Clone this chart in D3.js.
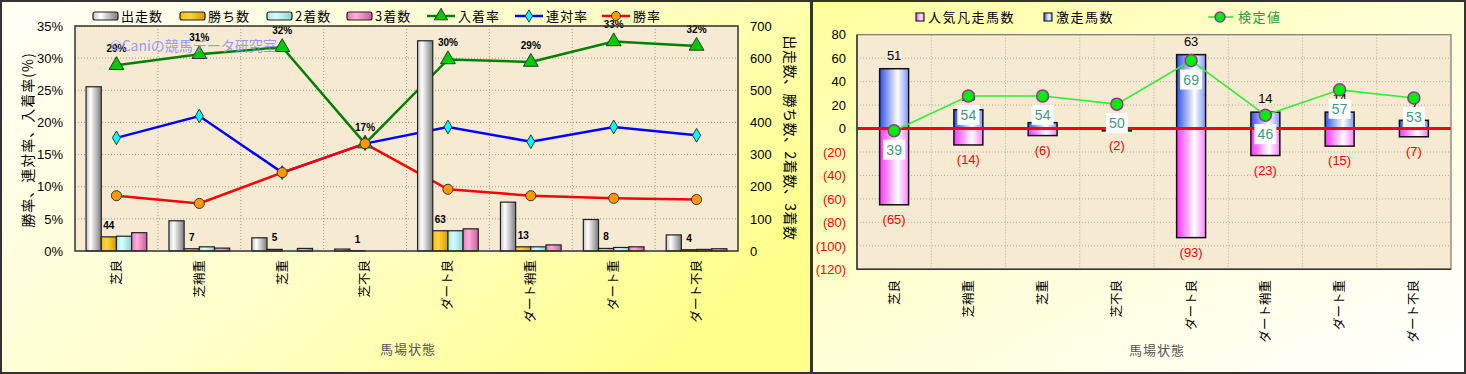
<!DOCTYPE html>
<html>
<head>
<meta charset="utf-8">
<script src="https://cdn.jsdelivr.net/npm/d3@7"></script>
<style>
body { margin: 0; background: #fff; }
text { font-family: "Liberation Sans", "Noto Sans CJK JP", sans-serif; }
.jp { font-family: "Noto Sans CJK JP", sans-serif; }
</style>
</head>
<body>
<script>
// categories (馬場状態)
var categories = ["芝良", "芝稍重", "芝重", "芝不良", "ダート良", "ダート稍重", "ダート重", "ダート不良"];

// left chart: counts
var runs    = [511, 94, 41, 6, 654, 152, 98, 50];
var wins    = [44, 7, 5, 1, 63, 13, 8, 4];
var seconds = [46, 13, 0, 0, 63, 13, 11, 5];
var thirds  = [57, 9, 8, 0, 69, 19, 13, 7];

// left chart: rates
var placeRate    = [0.289, 0.306, 0.317, 0.167, 0.298, 0.294, 0.326, 0.319];
var quinellaRate = [0.176, 0.210, 0.122, 0.167, 0.193, 0.170, 0.193, 0.180];
var winRate      = [0.086, 0.074, 0.122, 0.167, 0.096, 0.086, 0.082, 0.080];

// right chart
var popularFail = [65, 14, 6, 2, 93, 23, 15, 7];
var surgeRuns   = [51, 16, 5, 0, 63, 14, 14, 7];
var testValue   = [39.1, 53.9, 53.9, 50.4, 69.0, 45.7, 56.5, 53.0];

var pctTicks = [0, 0.05, 0.10, 0.15, 0.20, 0.25, 0.30, 0.35];
var cntTicks = [0, 100, 200, 300, 400, 500, 600, 700];
var diffTicks = [80, 60, 40, 20, 0, -20, -40, -60, -80, -100, -120];

var svg = d3.select("body").append("svg")
    .attr("width", 1466)
    .attr("height", 374);

var defs = svg.append("defs");

function grad(id, stops, x1, y1, x2, y2) {
    var g = defs.append("linearGradient")
        .attr("id", id)
        .attr("x1", x1 || 0).attr("y1", y1 || 0)
        .attr("x2", x2 === undefined ? 1 : x2).attr("y2", y2 || 0);
    stops.forEach(function(s) {
        g.append("stop").attr("offset", s[0]).attr("stop-color", s[1]);
    });
}

grad("panelL", [[0, "#fffff4"], [0.55, "#ffffc8"], [1, "#ffff8c"]], 0, 0.1, 1, 0.6);
grad("panelR", [[0, "#ffff9c"], [0.5, "#ffffd8"], [1, "#ffffff"]], 0, 0, 1, 1);
grad("g-runs", [[0, "#c4c4c4"], [0.3, "#ffffff"], [1, "#7c7c7c"]]);
grad("g-wins", [[0, "#f5bd00"], [0.35, "#ffd640"], [1, "#d49a00"]]);
grad("g-seconds", [[0, "#a6e6e6"], [0.35, "#d8ffff"], [1, "#8ed0d0"]]);
grad("g-thirds", [[0, "#e878b8"], [0.35, "#ffb0dc"], [1, "#c85c9c"]]);
grad("g-surge", [[0, "#3050ee"], [0.62, "#ffffff"], [1, "#7f95ff"]]);
grad("g-fail", [[0, "#ff30ff"], [0.62, "#ffffff"], [1, "#ff80ff"]]);

// panels
svg.append("rect").attr("x", 1).attr("y", 1).attr("width", 810).attr("height", 372)
    .style("fill", "url(#panelL)").style("stroke", "#333").style("stroke-width", 2);
svg.append("rect").attr("x", 812).attr("y", 1).attr("width", 653).attr("height", 372)
    .style("fill", "url(#panelR)").style("stroke", "#333").style("stroke-width", 2);

// ---------------- left chart ----------------
var L = {left: 75, right: 738, top: 26, bottom: 251};

var xL = d3.scaleBand().domain(categories).range([L.left, L.right]);
var keys = ["runs", "wins", "seconds", "thirds"];
var counts = {runs: runs, wins: wins, seconds: seconds, thirds: thirds};
var xSub = d3.scaleBand().domain(keys).range([0, xL.bandwidth()]).paddingOuter(0.73);
var yPct = d3.scaleLinear().domain([0, 0.35]).range([L.bottom, L.top]);
var yCnt = d3.scaleLinear().domain([0, 700]).range([L.bottom, L.top]);

var left = svg.append("g");

left.append("rect")
    .attr("x", L.left).attr("y", L.top)
    .attr("width", L.right - L.left).attr("height", L.bottom - L.top)
    .style("fill", "#f6ead3");

left.selectAll(".hgrid")
    .data(pctTicks.slice(1))
    .enter().append("line")
    .attr("x1", L.left).attr("x2", L.right)
    .attr("y1", function(d) { return yPct(d); })
    .attr("y2", function(d) { return yPct(d); })
    .style("stroke", "#a49c90").style("stroke-dasharray", "1,2");

left.selectAll(".vgrid")
    .data(categories.slice(1))
    .enter().append("line")
    .attr("x1", function(d) { return xL(d); })
    .attr("x2", function(d) { return xL(d); })
    .attr("y1", L.top).attr("y2", L.bottom)
    .style("stroke", "#a49c90").style("stroke-dasharray", "1,2");

var cx = function(d, i) { return xL(categories[i]) + xL.bandwidth() / 2; };

var rateSeries = [
    {name: "入着率", values: placeRate, line: "#008000", fill: "#00cc00", mark: d3.symbolTriangle, size: 95},
    {name: "連対率", values: quinellaRate, line: "#0000ff", fill: "#00ffff", mark: d3.symbolDiamond, size: 55},
    {name: "勝率", values: winRate, line: "#ff0000", fill: "#ff9900", mark: d3.symbolCircle, size: 80}
];

var line = d3.line().x(cx).y(function(d) { return yPct(d); });

rateSeries.forEach(function(s) {
    left.append("path")
        .datum(s.values)
        .attr("d", line)
        .style("fill", "none")
        .style("stroke", s.line)
        .style("stroke-width", 2.5);
});

keys.forEach(function(k) {
    left.selectAll(".bar-" + k)
        .data(counts[k])
        .enter().append("rect")
        .attr("x", function(d, i) { return xL(categories[i]) + xSub(k); })
        .attr("width", xSub.bandwidth())
        .attr("y", function(d) { return yCnt(d); })
        .attr("height", function(d) { return L.bottom - yCnt(d); })
        .style("display", function(d) { return d > 0 ? null : "none"; })
        .style("fill", "url(#g-" + k + ")")
        .style("stroke", "#222")
        .style("stroke-width", 1.2);
});

rateSeries.forEach(function(s) {
    left.selectAll(null)
        .data(s.values)
        .enter().append("path")
        .attr("d", d3.symbol().type(s.mark).size(s.size))
        .attr("transform", function(d, i) { return "translate(" + cx(d, i) + "," + yPct(d) + ")"; })
        .style("fill", s.fill)
        .style("stroke", "#333")
        .style("stroke-width", 1);
});

// 入着率 labels
left.selectAll(".plabel")
    .data(placeRate)
    .enter().append("text")
    .attr("x", cx)
    .attr("y", function(d) { return yPct(d) - 13; })
    .attr("text-anchor", "middle")
    .style("font-size", "10px")
    .style("font-weight", "bold")
    .text(d3.format(".0%"));

// 勝ち数 labels
left.selectAll(".wlabel")
    .data(wins)
    .enter().append("text")
    .attr("x", function(d, i) { return xL(categories[i]) + xSub("wins") + xSub.bandwidth() / 2; })
    .attr("y", function(d) { return yCnt(d) - 8; })
    .attr("text-anchor", "middle")
    .style("font-size", "10px")
    .style("font-weight", "bold")
    .text(function(d) { return d; });

left.append("rect")
    .attr("x", L.left).attr("y", L.top)
    .attr("width", L.right - L.left).attr("height", L.bottom - L.top)
    .style("fill", "none").style("stroke", "#333").style("stroke-width", 1.5);

var axL = left.append("g")
    .attr("transform", "translate(" + L.left + ",0)")
    .call(d3.axisLeft(yPct).tickValues(pctTicks).tickFormat(d3.format(".0%")).tickSize(0).tickPadding(12));
var axR = left.append("g")
    .attr("transform", "translate(" + L.right + ",0)")
    .call(d3.axisRight(yCnt).tickValues(cntTicks).tickSize(0).tickPadding(12));
[axL, axR].forEach(function(a) {
    a.select(".domain").remove();
    a.selectAll("text").style("font-size", "13px").style("fill", "#000")
        .style("font-family", "Liberation Sans, sans-serif");
});

left.selectAll(".xlab")
    .data(categories)
    .enter().append("text")
    .attr("class", "jp")
    .attr("transform", function(d) { return "translate(" + (xL(d) + xL.bandwidth() / 2) + ",260) rotate(-90)"; })
    .attr("dy", "0.35em")
    .attr("text-anchor", "end")
    .style("font-size", "12.5px")
    .text(function(d) { return d; });

left.append("text")
    .attr("class", "jp")
    .attr("transform", "translate(28,140) rotate(-90)")
    .attr("text-anchor", "middle")
    .attr("dy", "0.35em")
    .style("font-size", "14px")
    .style("letter-spacing", "1px")
    .text("勝率、連対率、入着率(%)");

left.append("text")
    .attr("class", "jp")
    .attr("transform", "translate(790,138) rotate(90)")
    .attr("text-anchor", "middle")
    .attr("dy", "0.35em")
    .style("font-size", "14px")
    .style("letter-spacing", "0.5px")
    .text("出走数、勝ち数、2着数、3着数");

left.append("text")
    .attr("class", "jp")
    .attr("x", 408).attr("y", 354)
    .attr("text-anchor", "middle")
    .style("font-size", "13px")
    .style("fill", "#555")
    .style("letter-spacing", "1px")
    .text("馬場状態");

left.append("text")
    .attr("class", "jp")
    .attr("x", 110).attr("y", 51)
    .style("font-size", "14px")
    .style("fill", "#8c8cff")
    .style("opacity", 0.85)
    .text("©Caniの競馬データ研究室");

// legend left
var barLegend = [
    {name: "出走数", key: "runs", x: 93},
    {name: "勝ち数", key: "wins", x: 180},
    {name: "2着数", key: "seconds", x: 267},
    {name: "3着数", key: "thirds", x: 347}
];
barLegend.forEach(function(b) {
    left.append("rect")
        .attr("x", b.x).attr("y", 12).attr("width", 25).attr("height", 8).attr("rx", 2)
        .style("fill", "url(#g-" + b.key + ")").style("stroke", "#222").style("stroke-width", 1.2);
    left.append("text").attr("class", "jp")
        .attr("x", b.x + 28).attr("y", 21)
        .style("font-size", "13px").style("letter-spacing", "1px")
        .text(b.name);
});
var lineLegendX = [427, 515, 602];
rateSeries.forEach(function(s, i) {
    var x0 = lineLegendX[i];
    left.append("line")
        .attr("x1", x0).attr("x2", x0 + 28).attr("y1", 16).attr("y2", 16)
        .style("stroke", s.line).style("stroke-width", 2.5);
    left.append("path")
        .attr("d", d3.symbol().type(s.mark).size(s.size * 0.8))
        .attr("transform", "translate(" + (x0 + 14) + ",16)")
        .style("fill", s.fill).style("stroke", "#333");
    left.append("text").attr("class", "jp")
        .attr("x", x0 + 31).attr("y", 21)
        .style("font-size", "13px").style("letter-spacing", "1px")
        .text(s.name);
});

// ---------------- right chart ----------------
var R = {left: 857, right: 1451, top: 34.7, bottom: 269.3};

var xR = d3.scaleBand().domain(categories).range([R.left, R.right]).paddingInner(0.61).paddingOuter(0.305);
var yR = d3.scaleLinear().domain([-120, 80]).range([R.bottom, R.top]);
var yTest = d3.scaleLinear().domain([-20, 80]).range([R.bottom, R.top]);
var stepR = xR.step();

var right = svg.append("g");

right.append("rect")
    .attr("x", R.left).attr("y", R.top)
    .attr("width", R.right - R.left).attr("height", R.bottom - R.top)
    .style("fill", "#f6ead3");

right.selectAll(".hgrid")
    .data(diffTicks.slice(1, -1))
    .enter().append("line")
    .attr("x1", R.left).attr("x2", R.right)
    .attr("y1", function(d) { return yR(d); })
    .attr("y2", function(d) { return yR(d); })
    .style("stroke", "#b4aca0").style("stroke-dasharray", "1,2");

right.selectAll(".vgrid")
    .data(d3.range(1, categories.length))
    .enter().append("line")
    .attr("x1", function(d) { return R.left + d * stepR; })
    .attr("x2", function(d) { return R.left + d * stepR; })
    .attr("y1", R.top).attr("y2", R.bottom)
    .style("stroke", "#b4aca0").style("stroke-dasharray", "1,2");

var rcx = function(d, i) { return xR(categories[i]) + xR.bandwidth() / 2; };

right.selectAll(".surge")
    .data(surgeRuns)
    .enter().append("rect")
    .attr("x", function(d, i) { return xR(categories[i]); })
    .attr("width", xR.bandwidth())
    .attr("y", function(d) { return yR(d); })
    .attr("height", function(d) { return yR(0) - yR(d); })
    .style("fill", "url(#g-surge)")
    .style("stroke", "#111").style("stroke-width", 1.5)
    .style("display", function(d) { return d > 0 ? null : "none"; });

right.selectAll(".fail")
    .data(popularFail)
    .enter().append("rect")
    .attr("x", function(d, i) { return xR(categories[i]); })
    .attr("width", xR.bandwidth())
    .attr("y", yR(0))
    .attr("height", function(d) { return yR(-d) - yR(0); })
    .style("fill", "url(#g-fail)")
    .style("stroke", "#111").style("stroke-width", 1.5);

right.selectAll(".slabel")
    .data(surgeRuns)
    .enter().append("text")
    .attr("x", rcx)
    .attr("y", function(d) { return yR(d) - 9; })
    .attr("text-anchor", "middle")
    .style("font-size", "13px")
    .text(function(d) { return d > 0 ? d : ""; });

right.selectAll(".flabel")
    .data(popularFail)
    .enter().append("text")
    .attr("x", rcx)
    .attr("y", function(d) { return yR(-d) + 19; })
    .attr("text-anchor", "middle")
    .style("font-size", "13px")
    .style("fill", "#ff0000")
    .text(function(d) { return "(" + d + ")"; });

right.append("line")
    .attr("x1", R.left).attr("x2", R.right)
    .attr("y1", yR(0)).attr("y2", yR(0))
    .style("stroke", "#ff0000").style("stroke-width", 3);

right.append("path")
    .datum(testValue)
    .attr("d", d3.line().x(rcx).y(function(d) { return yTest(d); }))
    .style("fill", "none").style("stroke", "#33ee33").style("stroke-width", 1.6);

right.selectAll(".tmark")
    .data(testValue)
    .enter().append("circle")
    .attr("cx", rcx)
    .attr("cy", function(d) { return yTest(d); })
    .attr("r", 6)
    .style("fill", "#00ee00").style("stroke", "#993399").style("stroke-width", 1.5);

var tlab = right.selectAll(".tlabel")
    .data(testValue)
    .enter().append("g")
    .attr("transform", function(d, i) { return "translate(" + rcx(d, i) + "," + (yTest(d) + 19) + ")"; });
tlab.append("rect")
    .attr("x", -11).attr("y", -10).attr("width", 22).attr("height", 20)
    .style("fill", "#fff");
tlab.append("text")
    .attr("text-anchor", "middle")
    .attr("dy", "0.36em")
    .style("font-size", "14px")
    .style("fill", "#3f9a7c")
    .text(d3.format(".0f"));

right.append("rect")
    .attr("x", R.left).attr("y", R.top)
    .attr("width", R.right - R.left).attr("height", R.bottom - R.top)
    .style("fill", "none").style("stroke", "#777").style("stroke-width", 1.2);
right.append("path")
    .attr("d", "M" + R.left + "," + R.top + "V" + R.bottom + "H" + R.right)
    .style("fill", "none").style("stroke", "#333").style("stroke-width", 1.5);

var axD = right.append("g")
    .attr("transform", "translate(" + R.left + ",0)")
    .call(d3.axisLeft(yR).tickValues(diffTicks).tickSize(0).tickPadding(11)
        .tickFormat(function(d) { return d < 0 ? "(" + (-d) + ")" : d; }));
axD.select(".domain").remove();
axD.selectAll("text")
    .style("font-size", "13px")
    .style("font-family", "Liberation Sans, sans-serif")
    .style("fill", function(d) { return d < 0 ? "#ff0000" : "#000"; });

right.selectAll(".xlab")
    .data(categories)
    .enter().append("text")
    .attr("class", "jp")
    .attr("transform", function(d) { return "translate(" + (xR(d) + xR.bandwidth() / 2) + ",280) rotate(-90)"; })
    .attr("dy", "0.35em")
    .attr("text-anchor", "end")
    .style("font-size", "12.5px")
    .text(function(d) { return d; });

right.append("text")
    .attr("class", "jp")
    .attr("x", 1157).attr("y", 355)
    .attr("text-anchor", "middle")
    .style("font-size", "13px")
    .style("fill", "#555")
    .style("letter-spacing", "1px")
    .text("馬場状態");

// legend right
[{name: "人気凡走馬数", g: "g-fail", x: 916}, {name: "激走馬数", g: "g-surge", x: 1044}].forEach(function(b) {
    right.append("rect")
        .attr("x", b.x).attr("y", 13).attr("width", 8).attr("height", 8)
        .style("fill", "url(#" + b.g + ")").style("stroke", "#222").style("stroke-width", 1.2);
    right.append("text").attr("class", "jp")
        .attr("x", b.x + 12).attr("y", 22)
        .style("font-size", "13px").style("letter-spacing", "1.5px")
        .text(b.name);
});
right.append("line")
    .attr("x1", 1208).attr("x2", 1233).attr("y1", 17).attr("y2", 17)
    .style("stroke", "#33ee33").style("stroke-width", 1.6);
right.append("circle")
    .attr("cx", 1220).attr("cy", 17).attr("r", 5)
    .style("fill", "#00ee00").style("stroke", "#993399").style("stroke-width", 1.5);
right.append("text").attr("class", "jp")
    .attr("x", 1238).attr("y", 22)
    .style("font-size", "13px").style("letter-spacing", "1.5px")
    .style("fill", "#2f9a3a")
    .text("検定値");
</script>
</body>
</html>
